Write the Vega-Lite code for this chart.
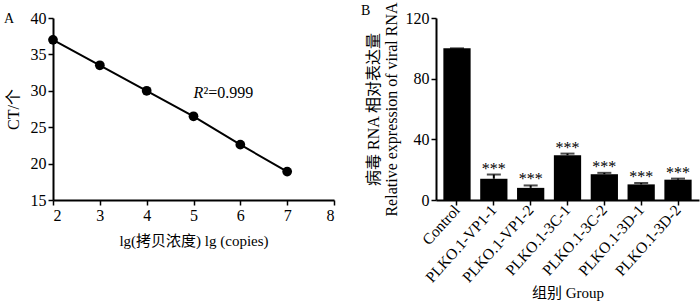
{
  "$schema": "https://vega.github.io/schema/vega-lite/v6.json",
  "padding": {"left": 4, "top": 1, "right": 2, "bottom": 0},
  "background": "white",
  "config": {
    "font": "Liberation Serif, Noto Sans CJK SC",
    "view": {"stroke": null},
    "axis": {
      "domainColor": "black", "domainWidth": 2,
      "tickColor": "black", "tickWidth": 1.5, "tickSize": 5,
      "labelColor": "black", "labelFont": "Liberation Serif", "labelFontSize": 16,
      "titleFont": "Liberation Serif, Noto Sans CJK SC", "titleFontSize": 16,
      "titleFontWeight": "normal", "titleColor": "black",
      "grid": false, "labelPadding": 2
    },
    "title": {"anchor": "start", "frame": "bounds", "fontSize": 14, "fontWeight": "normal", "font": "Liberation Serif", "color": "black", "offset": -16},
    "concat": {"spacing": 26}
  },
  "hconcat": [
    {
      "title": {"text": "A", "dx": -1},
      "width": 281,
      "height": 182,
      "data": {"values": [
        {"lg": 2, "ct": 37.0},
        {"lg": 3, "ct": 33.5},
        {"lg": 4, "ct": 30.0},
        {"lg": 5, "ct": 26.5},
        {"lg": 6, "ct": 22.6},
        {"lg": 7, "ct": 18.9}
      ]},
      "encoding": {
        "x": {"field": "lg", "type": "quantitative", "scale": {"domain": [2, 8]},
              "axis": {"values": [2, 3, 4, 5, 6, 7, 8], "title": "lg(拷贝浓度)  lg (copies)", "titlePadding": 10, "titleFontSize": 15}},
        "y": {"field": "ct", "type": "quantitative", "scale": {"domain": [15, 40]},
              "axis": {"values": [15, 20, 25, 30, 35, 40], "title": "CT/个", "titlePadding": 9}}
      },
      "layer": [
        {"mark": {"type": "line", "color": "black", "strokeWidth": 2}},
        {"mark": {"type": "point", "filled": true, "color": "black", "size": 95, "opacity": 1}},
        {
          "data": {"values": [{"lg": 5, "ct": 29.7, "t": "R"}]},
          "mark": {"type": "text", "fontStyle": "italic", "fontSize": 16, "align": "left", "baseline": "middle", "color": "black"},
          "encoding": {"text": {"field": "t"}}
        },
        {
          "data": {"values": [{"lg": 5, "ct": 29.7, "t": "²=0.999"}]},
          "mark": {"type": "text", "fontSize": 16, "align": "left", "baseline": "middle", "dx": 10, "color": "black"},
          "encoding": {"text": {"field": "t"}}
        }
      ]
    },
    {
      "title": {"text": "B", "dx": -4},
      "width": 263,
      "height": 182,
      "data": {"values": [
        {"g": "Control", "v": 100, "e": 100, "s": ""},
        {"g": "PLKO.1-VP1-1", "v": 14, "e": 16.8, "s": "***"},
        {"g": "PLKO.1-VP1-2", "v": 8, "e": 9.6, "s": "***"},
        {"g": "PLKO.1-3C-1", "v": 29.5, "e": 30.6, "s": "***"},
        {"g": "PLKO.1-3C-2", "v": 17, "e": 17.9, "s": "***"},
        {"g": "PLKO.1-3D-1", "v": 10.3, "e": 11.2, "s": "***"},
        {"g": "PLKO.1-3D-2", "v": 13.4, "e": 14.1, "s": "***"}
      ]},
      "encoding": {
        "x": {"field": "g", "type": "nominal", "sort": null,
              "scale": {"paddingInner": 0.26, "paddingOuter": 0.2},
              "axis": {"labelAngle": -48, "labelFontSize": 15.5, "title": "组别 Group", "titlePadding": 0, "titleFontSize": 15}}
      },
      "layer": [
        {
          "mark": {"type": "bar", "color": "black"},
          "encoding": {
            "y": {"field": "v", "type": "quantitative", "scale": {"domain": [0, 120]},
                  "axis": {"values": [0, 20, 40, 60, 80, 100, 120], "title": ["病毒 RNA 相对表达量", "Relative expression of viral RNA"], "titlePadding": 6}}
          }
        },
        {
          "mark": {"type": "rule", "color": "black", "strokeWidth": 2},
          "encoding": {"y": {"field": "v", "type": "quantitative"}, "y2": {"field": "e"}}
        },
        {
          "mark": {"type": "tick", "color": "black", "size": 14, "thickness": 2},
          "encoding": {"y": {"field": "e", "type": "quantitative"}}
        },
        {
          "mark": {"type": "text", "fontSize": 16, "baseline": "bottom", "dy": 2, "color": "black"},
          "encoding": {"y": {"field": "e", "type": "quantitative"}, "text": {"field": "s"}}
        }
      ]
    }
  ]
}
